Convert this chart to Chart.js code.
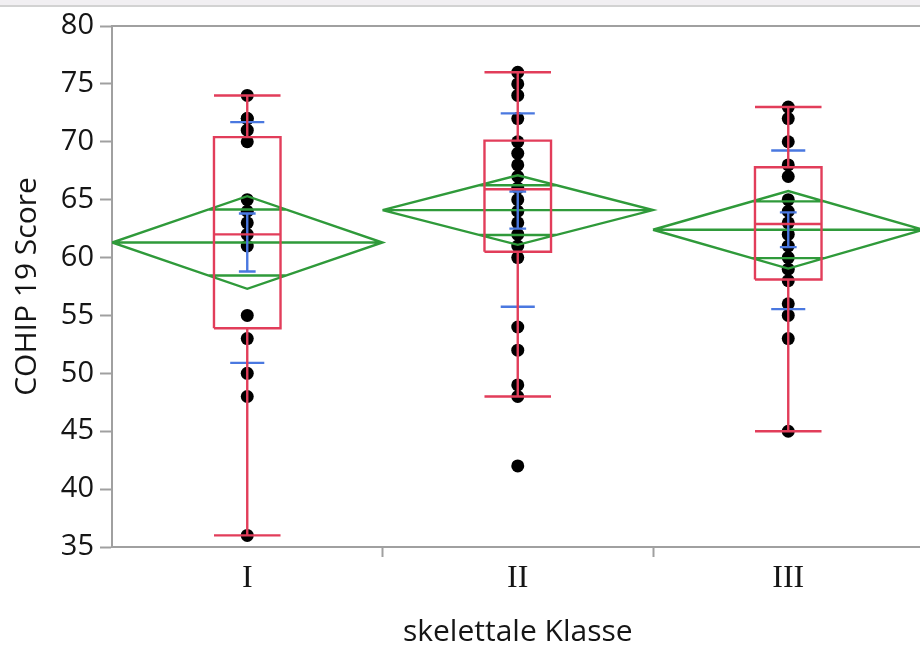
<!DOCTYPE html>
<html><head><meta charset="utf-8">
<script src="https://cdn.jsdelivr.net/npm/chart.js@4.4.0/dist/chart.umd.min.js"></script>
<style>
html,body{margin:0;padding:0;background:#fff;overflow:hidden;width:920px;height:648px;}
#wrap{position:absolute;left:0;top:0;width:930px;height:648px;}
#strip{position:absolute;left:0;top:0;width:920px;height:5px;background:#f1eff2;border-bottom:2px solid #d2d2d2;}
</style></head><body>
<div id="wrap"><canvas id="c" width="930" height="648"></canvas></div>
<div id="strip"></div>
<script>
// ---- data ----
const categories = ['I', 'II', 'III'];
const scoresI   = [74, 72, 72, 71, 70, 65, 64, 63, 62, 61, 55, 53, 50, 48, 36];
const scoresII  = [76, 75, 74, 72, 70, 69, 68, 67, 66, 65, 64, 63, 62, 61, 60, 54, 52, 49, 48, 42];
const scoresIII = [73, 72, 70, 68, 67, 65, 64, 63, 62, 61, 60, 59, 58, 56, 55, 53, 45];
const boxQ1       = [53.9, 60.5, 58.1];
const boxMedian   = [62.0, 65.9, 62.9];
const boxQ3       = [70.4, 70.1, 67.8];
const whiskerLow  = [36, 48, 45];
const whiskerHigh = [74, 76, 73];
const groupMean   = [61.3, 64.1, 62.4];
const meanCI95    = [4.0, 3.0, 3.35];
const overlapMark = [2.85, 2.15, 2.45];
const groupSD     = [10.4, 8.35, 6.85];
const groupSE     = [2.5, 1.6, 1.5];
const yTicks      = [35, 40, 45, 50, 55, 60, 65, 70, 75, 80];

// ---- styling ----
const RED = '#e23d5a', GREEN = '#2f9a3a', BLUE = '#4a78e0', AXIS = '#a0a0a0', TXT = '#151515';
const BOX_HALF = 0.123, SD_HALF = 0.063, SE_HALF = 0.031;

const allScores = [scoresI, scoresII, scoresIII];
const pointData = [];
allScores.forEach((arr, g) => arr.forEach(v => pointData.push({x: g + 1, y: v})));

function polylines(list) {
  const out = [];
  list.forEach(pl => { pl.forEach(p => out.push({x: p[0], y: p[1]})); out.push({x: pl[pl.length-1][0], y: null}); });
  return out;
}
const diamondLines = [], boxLines = [], sdLines = [];
categories.forEach((c, g) => {
  const x = g + 1, m = groupMean[g], ci = meanCI95[g], ov = overlapMark[g];
  diamondLines.push([[x-0.5, m], [x, m+ci], [x+0.5, m], [x, m-ci], [x-0.5, m]]);
  diamondLines.push([[x-0.5, m], [x+0.5, m]]);
  const hw = 0.5 * (1 - ov / ci);
  diamondLines.push([[x-hw, m+ov], [x+hw, m+ov]]);
  diamondLines.push([[x-hw, m-ov], [x+hw, m-ov]]);
  boxLines.push([[x-BOX_HALF, boxQ1[g]], [x+BOX_HALF, boxQ1[g]], [x+BOX_HALF, boxQ3[g]], [x-BOX_HALF, boxQ3[g]], [x-BOX_HALF, boxQ1[g]]]);
  boxLines.push([[x-BOX_HALF, boxMedian[g]], [x+BOX_HALF, boxMedian[g]]]);
  boxLines.push([[x, boxQ3[g]], [x, whiskerHigh[g]]]);
  boxLines.push([[x-BOX_HALF, whiskerHigh[g]], [x+BOX_HALF, whiskerHigh[g]]]);
  boxLines.push([[x, boxQ1[g]], [x, whiskerLow[g]]]);
  boxLines.push([[x-BOX_HALF, whiskerLow[g]], [x+BOX_HALF, whiskerLow[g]]]);
  sdLines.push([[x-SD_HALF, m+groupSD[g]], [x+SD_HALF, m+groupSD[g]]]);
  sdLines.push([[x-SD_HALF, m-groupSD[g]], [x+SD_HALF, m-groupSD[g]]]);
  sdLines.push([[x, m-groupSE[g]], [x, m+groupSE[g]]]);
  sdLines.push([[x-SE_HALF, m+groupSE[g]], [x+SE_HALF, m+groupSE[g]]]);
  sdLines.push([[x-SE_HALF, m-groupSE[g]], [x+SE_HALF, m-groupSE[g]]]);
});

function lineSet(list, color, order) {
  return {data: polylines(list), showLine: true, borderColor: color, borderWidth: 2.4, pointRadius: 0,
          pointHoverRadius: 0, fill: false, tension: 0, spanGaps: false, order: order};
}

new Chart(document.getElementById('c'), {
  type: 'scatter',
  data: {datasets: [
    {data: pointData, pointRadius: 6.5, pointBackgroundColor: '#000', pointBorderWidth: 0, borderWidth: 0, order: 10},
    lineSet(diamondLines, GREEN, 4),
    lineSet(sdLines, BLUE, 3),
    lineSet(boxLines, RED, 2)
  ]},
  options: {
    responsive: false, devicePixelRatio: 1, animation: false,
    layout: {padding: {top: 26, right: 4, left: 0, bottom: 0}},
    plugins: {legend: {display: false}, tooltip: {enabled: false}},
    scales: {
      x: {
        type: 'linear', position: 'bottom', min: 0.5, max: 3.5,
        afterBuildTicks: s => { s.ticks = [1, 1.5, 2, 2.5, 3].map(v => ({value: v})); },
        afterFit: s => { s.height = 101; },
        ticks: {autoSkip: false, maxRotation: 0, padding: 2, color: TXT,
                font: {family: '"Liberation Serif"', size: 32},
                callback: v => Number.isInteger(v) ? categories[v - 1] : ''},
        grid: {drawOnChartArea: false, drawTicks: true, tickLength: 10, tickWidth: 2,
               tickColor: ctx => (ctx.tick && !Number.isInteger(ctx.tick.value)) ? AXIS : 'rgba(0,0,0,0)'},
        border: {display: true, color: AXIS, width: 2},
        title: {display: true, text: 'skelettale Klasse', color: TXT,
                font: {family: '"Open Sans"', size: 30}, padding: {top: 0, bottom: -2}}
      },
      xTop: {
        type: 'linear', position: 'top', min: 0.5, max: 3.5,
        afterFit: s => { s.height = 0; },
        ticks: {display: false}, grid: {display: false, drawTicks: false},
        border: {display: true, color: AXIS, width: 2}
      },
      y: {
        type: 'linear', position: 'left', min: 35, max: 80,
        afterBuildTicks: s => { s.ticks = yTicks.map(v => ({value: v})); },
        afterFit: s => { s.width = 112; },
        ticks: {padding: 6, color: TXT, font: {family: '"Open Sans"', size: 29}},
        grid: {drawOnChartArea: false, drawTicks: true, tickLength: 12, tickWidth: 2, tickColor: AXIS},
        border: {display: true, color: AXIS, width: 2},
        title: {display: true, text: 'COHIP 19 Score', color: TXT,
                font: {family: '"Open Sans"', size: 30}, padding: {top: 9, bottom: 0}}
      }
    }
  }
});
</script>
</body></html>
